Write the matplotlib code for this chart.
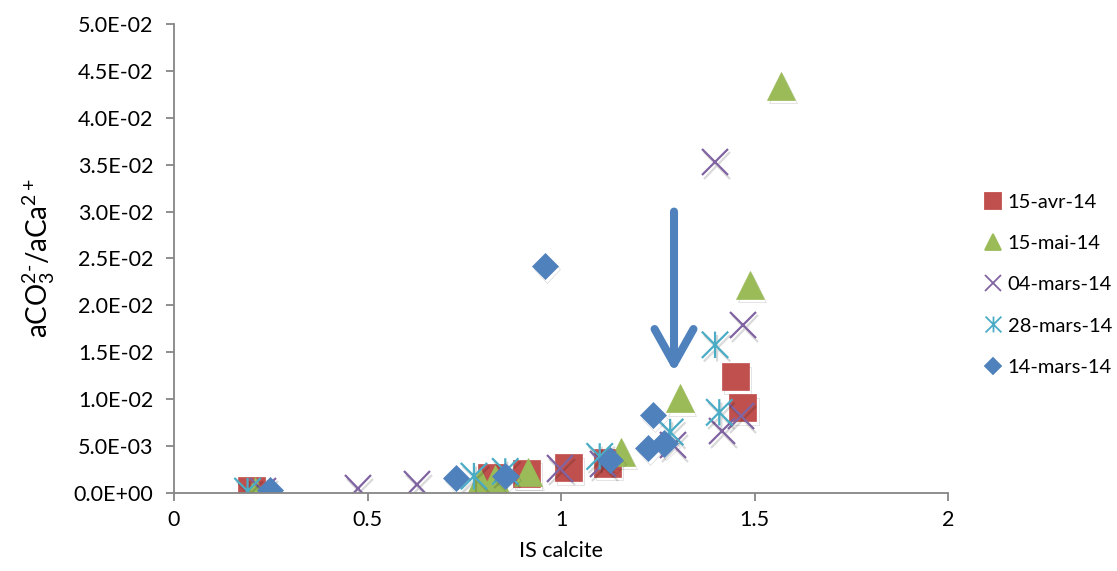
import matplotlib.pyplot as plt
from matplotlib.path import Path
import matplotlib.ticker as mticker
import matplotlib.patheffects as pe

plt.rcParams['font.family'] = ['Lato', 'DejaVu Sans']
plt.rcParams['mathtext.fontset'] = 'custom'
plt.rcParams['mathtext.rm'] = 'Lato'
plt.rcParams['mathtext.it'] = 'Lato'

# 15-avr-14
avr15_x = [0.20, 0.82, 0.91, 1.02, 1.12, 1.45, 1.47]
avr15_y = [0.0003, 0.0017, 0.0021, 0.0027, 0.0032, 0.0124, 0.0091]
# 15-mai-14
mai15_x = [0.21, 0.79, 0.83, 0.915, 1.155, 1.307, 1.489, 1.568]
mai15_y = [0.0002, 0.0012, 0.0015, 0.0022, 0.0044, 0.0101, 0.0222, 0.0434]
# 04-mars-14
mars04_x = [0.23, 0.475, 0.628, 0.997, 1.109, 1.289, 1.416, 1.465, 1.470, 1.398]
mars04_y = [0.0002, 0.0005, 0.0009, 0.0026, 0.0031, 0.0051, 0.0066, 0.0082, 0.0179, 0.0353]
# 28-mars-14
mars28_x = [0.19, 0.775, 0.856, 1.10, 1.282, 1.409, 1.398]
mars28_y = [0.0002, 0.0018, 0.0023, 0.0039, 0.0065, 0.0086, 0.0158]
# 14-mars-14
mars14_x = [0.248, 0.729, 0.856, 1.127, 1.225, 1.267, 1.238, 0.959]
mars14_y = [0.0003, 0.0016, 0.0018, 0.0035, 0.0048, 0.0053, 0.0083, 0.0242]

labels = ['15-avr-14', '15-mai-14', '04-mars-14', '28-mars-14', '14-mars-14']
colors = ['#C0504D', '#9BBB59', '#8064A2', '#4BACC6', '#4F81BD']

arrow_x = 1.292
arrow_top = 0.0300
arrow_tip = 0.0129

# excel style asterisk: vertical bar plus a cross
star = Path([(-0.5, -0.5), (0.5, 0.5), (-0.5, 0.5), (0.5, -0.5), (0, -0.5), (0, 0.5)],
            [Path.MOVETO, Path.LINETO, Path.MOVETO, Path.LINETO, Path.MOVETO, Path.LINETO])

fig = plt.figure(figsize=(11.17, 5.71), dpi=100)
ax = fig.add_axes([0.1558, 0.1366, 0.8487 - 0.1558, 0.958 - 0.1366])

series = [(avr15_x, avr15_y, 's', 19.5, True),
          (mai15_x, mai15_y, '^', 20, True),
          (mars04_x, mars04_y, 'x', 19, False),
          (mars28_x, mars28_y, star, 19, False),
          (mars14_x, mars14_y, 'D', 13.5, True)]

shadow = [pe.SimpleLineShadow(offset=(1.5, -2.5), shadow_color='k', alpha=0.15), pe.Normal()]

handles = []
for (xs, ys, mk, ms, filled), lab, c in zip(series, labels, colors):
    if filled:
        ax.plot(xs, ys, ls='none', marker=mk, ms=ms, mfc=c, mec=c, mew=0.5,
                path_effects=shadow)
    else:
        ax.plot(xs, ys, ls='none', marker=mk, ms=ms, mfc='none', mec=c, mew=1.6,
                path_effects=shadow)
    h, = ax.plot([], [], ls='none', marker=mk, ms=ms * 0.6 if mk != 'D' else 8,
                 mfc=c if filled else 'none', mec=c, mew=1.3)
    handles.append(h)

ax.annotate('', xy=(arrow_x, arrow_tip), xytext=(arrow_x, arrow_top),
            arrowprops=dict(arrowstyle='->,head_length=1.25,head_width=0.7',
                            color='#4F81BD', lw=5.8, mutation_scale=20,
                            shrinkA=0, shrinkB=0, capstyle='round'))

ax.set_xlim(0, 2)
ax.set_ylim(0, 0.05)
ax.xaxis.set_major_locator(mticker.MultipleLocator(0.5))
ax.yaxis.set_major_locator(mticker.MultipleLocator(0.005))
ax.xaxis.set_major_formatter(mticker.FuncFormatter(lambda v, p: '%g' % v))
ax.yaxis.set_major_formatter(mticker.FuncFormatter(lambda v, p: '%.1E' % v))

for s in ['top', 'right']:
    ax.spines[s].set_visible(False)
for s in ['left', 'bottom']:
    ax.spines[s].set_color('#868686')
    ax.spines[s].set_linewidth(1.3)
ax.tick_params(direction='out', length=6, width=1.3, color='#868686', labelsize=15.5)
ax.tick_params(axis='y', pad=9)
ax.tick_params(axis='x', pad=6)

ax.set_xlabel('IS calcite', fontsize=15.5, labelpad=8)
ax.set_ylabel(r'aCO$_3^{2\text{-}}$/aCa$^{2+}$', fontsize=20, labelpad=12)

fig.legend(handles=handles, labels=labels, loc='upper left', bbox_to_anchor=(0.875, 0.675),
           frameon=False, fontsize=14.5, handlelength=0.8, handletextpad=0.3,
           labelspacing=1.2, borderaxespad=0)

fig.savefig('out.png', dpi=100)
